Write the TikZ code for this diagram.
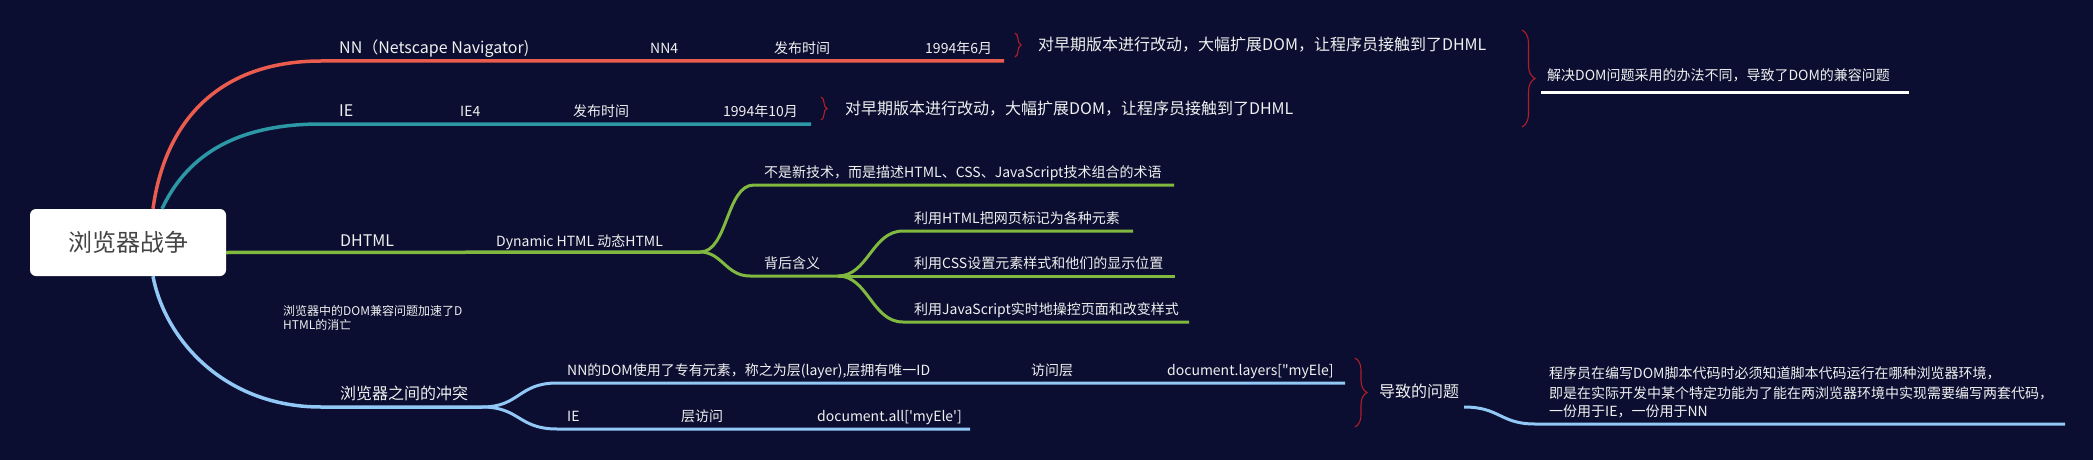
\documentclass[tikz,border=0pt]{standalone}
\usepackage{fontspec}
\setmainfont{Noto Sans CJK SC}
\usetikzlibrary{decorations.pathreplacing}
\definecolor{bgnavy}{RGB}{11,14,48}
\definecolor{nnred}{RGB}{234,92,78}
\definecolor{ieteal}{RGB}{44,152,166}
\definecolor{dhgreen}{RGB}{128,184,64}
\definecolor{cfblue}{RGB}{146,200,245}
\definecolor{bracered}{RGB}{178,30,40}
\definecolor{txtwhite}{RGB}{240,240,240}
\definecolor{roottxt}{RGB}{68,68,68}
\newcommand{\fsz}[1]{\fontsize{#1}{#1}\selectfont}
\tikzset{
  rootbox/.style={fill=white,rounded corners=6pt,minimum width=196pt,minimum height=67pt,text=roottxt,font=\fsz{24}},
  lbl/.style={anchor=base west,inner sep=0pt,text=txtwhite,font=\fsz{16}},
  sublbl/.style={lbl,font=\fsz{14}},
  tinylbl/.style={lbl,font=\fsz{12}},
  branch/.style={line width=3.5pt},
  twig/.style={line width=3pt},
  curly/.style={draw=bracered,line width=1.1pt,decorate,decoration={brace,amplitude=#1}},
}

\begin{document}
\begin{tikzpicture}[x=1pt,y=-1pt]
\fill[bgnavy] (0,0) rectangle (2093,460);
\useasboundingbox (0,0) rectangle (2093,460);
% 中心
\node[rootbox] (root) at (128,242.5) {浏览器战争};
% NN
\coordinate (nnL) at (321,61);
\coordinate (nnR) at (1004,61);
\draw[branch,nnred] ([xshift=25pt]root.north) .. controls (165,120) and (220,61) .. (nnL) -- (nnR);
\node[lbl] (nn) at (339,53) {NN（Netscape Navigator)};
\node[sublbl] (nn4) at (650,53) {NN4};
\node[sublbl] (nnpub) at (774,53) {发布时间};
\node[sublbl] (nndate) at (925,53) {1994年6月};
\coordinate (nnbT) at (1015,33);
\coordinate (nnbB) at (1015,57);
\draw[curly=6pt] (nnbT) -- (nnbB);
\node[lbl] (nnnote) at (1038,51) {对早期版本进行改动，大幅扩展DOM，让程序员接触到了DHML};
% IE
\coordinate (ieL) at (321,124);
\coordinate (ieR) at (811,124);
\draw[branch,ieteal] ([xshift=34pt]root.north) .. controls (185,160) and (230,124) .. (ieL) -- (ieR);
\node[lbl] (ie) at (339,116) {IE};
\node[sublbl] (ie4) at (460,116) {IE4};
\node[sublbl] (iepub) at (573,116) {发布时间};
\node[sublbl] (iedate) at (723,116) {1994年10月};
\coordinate (iebT) at (821,97);
\coordinate (iebB) at (821,120);
\draw[curly=6pt] (iebT) -- (iebB);
\node[lbl] (ienote) at (845,114) {对早期版本进行改动，大幅扩展DOM，让程序员接触到了DHML};
% 总结
\coordinate (sumT) at (1522,30);
\coordinate (sumB) at (1522,127);
\draw[curly=13pt] (sumT) -- (sumB);
\node[sublbl] (sumtxt) at (1547,81) {解决DOM问题采用的办法不同，导致了DOM的兼容问题};
\coordinate (sumL) at (1541,92);
\coordinate (sumR) at (1909,92);
\draw[white,line width=3pt] (sumL) -- (sumR);
% DHTML
\coordinate (dhR) at (700,252);
\draw[branch,dhgreen] ([yshift=-10pt]root.east) -- (dhR);
\node[lbl] (dh) at (340,246) {DHTML};
\node[sublbl] (dhname) at (496,246) {Dynamic HTML 动态HTML};
\coordinate (termL) at (754,185);
\coordinate (termR) at (1174,185);
\draw[twig,dhgreen] (dhR) .. controls (728,252) and (726,185) .. (termL) -- (termR);
\node[sublbl] (term) at (764,177) {不是新技术，而是描述HTML、CSS、JavaScript技术组合的术语};
\coordinate (bhL) at (750,276);
\coordinate (bhR) at (838,276);
\draw[twig,dhgreen] (dhR) .. controls (722,252) and (726,276) .. (bhL) -- (bhR);
\node[sublbl] (bh) at (764,268) {背后含义};
\coordinate (htmlL) at (903,231);
\coordinate (htmlR) at (1133,231);
\coordinate (cssR) at (1175,276);
\coordinate (jsL) at (903,322);
\coordinate (jsR) at (1189,322);
\draw[twig,dhgreen] (bhR) .. controls (868,276) and (872,231) .. (htmlL) -- (htmlR);
\draw[twig,dhgreen] (bhR) -- (cssR);
\draw[twig,dhgreen] (bhR) .. controls (868,276) and (872,322) .. (jsL) -- (jsR);
\node[sublbl] (html) at (914,223) {利用HTML把网页标记为各种元素};
\node[sublbl] (css) at (914,268) {利用CSS设置元素样式和他们的显示位置};
\node[sublbl] (js) at (914,314) {利用JavaScript实时地操控页面和改变样式};
% 浮动说明
\node[tinylbl] (fate1) at (283,315.5) {浏览器中的DOM兼容问题加速了D};
\node[tinylbl] (fate2) at (283,329.5) {HTML的消亡};
% 冲突
\coordinate (cfL) at (321,407);
\coordinate (cfR) at (482,407);
\draw[branch,cfblue] ([xshift=25pt]root.south) .. controls (165,340) and (225,407) .. (cfL) -- (cfR);
\node[lbl] (cf) at (340,399) {浏览器之间的冲突};
\coordinate (layL) at (557,383);
\coordinate (layR) at (1345,383);
\coordinate (allL) at (557,429);
\coordinate (allR) at (970,429);
\draw[twig,cfblue] (cfR) .. controls (520,407) and (518,383) .. (layL) -- (layR);
\draw[twig,cfblue] (cfR) .. controls (520,407) and (518,429) .. (allL) -- (allR);
\node[sublbl] (nndom) at (567,375) {NN的DOM使用了专有元素，称之为层(layer),层拥有唯一ID};
\node[sublbl] (nnacc) at (1031,375) {访问层};
\node[sublbl] (nncode) at (1167,375) {document.layers[\textquotedbl myEle]};
\node[sublbl] (iedom) at (567,421) {IE};
\node[sublbl] (ieacc) at (681,421) {层访问};
\node[sublbl] (iecode) at (817,421) {document.all[\textquotesingle myEle\textquotesingle]};
\coordinate (cfbT) at (1355,358);
\coordinate (cfbB) at (1355,427);
\draw[curly=12pt] (cfbT) -- (cfbB);
\node[lbl] (prob) at (1379,397) {导致的问题};
\coordinate (probL) at (1464,407);
\coordinate (probM) at (1535,424);
\coordinate (probR) at (2065,424);
\draw[twig,cfblue] (probL) .. controls (1500,407) and (1500,424) .. (probM) -- (probR);
\node[sublbl] (prob1) at (1549,378) {程序员在编写DOM脚本代码时必须知道脚本代码运行在哪种浏览器环境，};
\node[sublbl] (prob2) at (1549,398) {即是在实际开发中某个特定功能为了能在两浏览器环境中实现需要编写两套代码，};
\node[sublbl] (prob3) at (1549,416) {一份用于IE，一份用于NN};
\end{tikzpicture}
\end{document}
